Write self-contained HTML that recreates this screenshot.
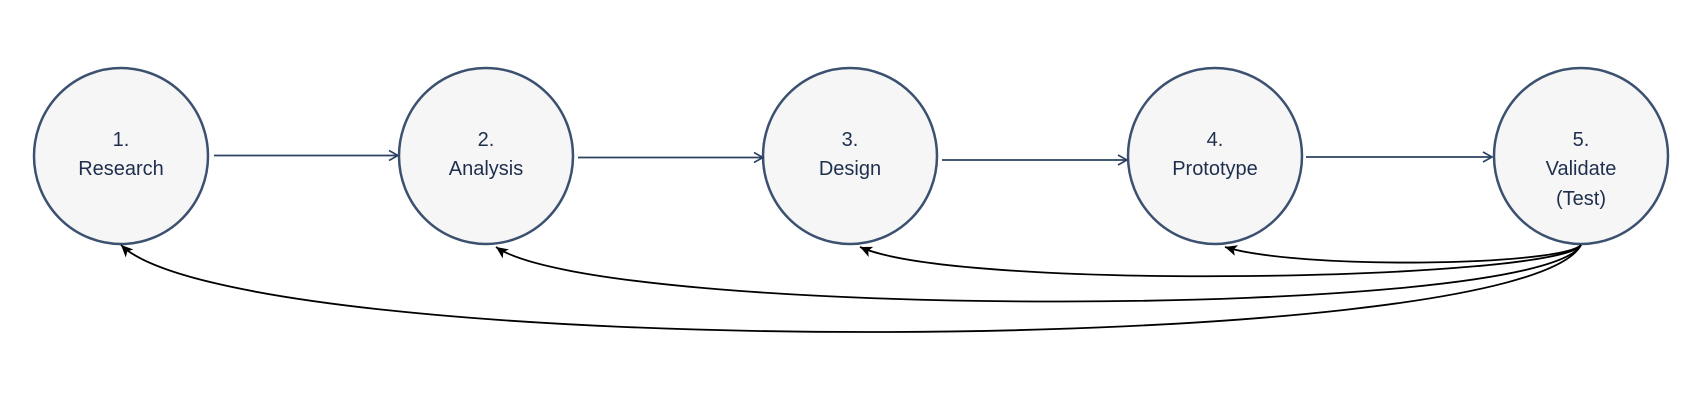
<!DOCTYPE html>
<html><head><style>
html,body{margin:0;padding:0;background:#fff;}
svg{display:block;}
text{font-family:"Liberation Sans",sans-serif;font-size:20px;fill:#1e2f4d;text-anchor:middle;}
</style></head><body>
<svg width="1706" height="402" viewBox="0 0 1706 402" xmlns="http://www.w3.org/2000/svg">
<defs>
<marker id="open" markerWidth="12" markerHeight="12" refX="10" refY="6" orient="auto" markerUnits="userSpaceOnUse">
<path d="M1,1 L10,6 L1,11" fill="none" stroke="#2b4263" stroke-width="1.6"/>
</marker>
<marker id="fill" markerWidth="14" markerHeight="14" refX="12" refY="7" orient="auto" markerUnits="userSpaceOnUse">
<path d="M0,1.5 L12,7 L0,12.5 L3,7 Z" fill="#000"/>
</marker>
</defs>
<g fill="#f6f6f6" stroke="#3c5170" stroke-width="2.5">
<ellipse cx="121" cy="156" rx="87" ry="88"/>
<ellipse cx="486" cy="156" rx="87" ry="88"/>
<ellipse cx="850" cy="156" rx="87" ry="88"/>
<ellipse cx="1215" cy="156" rx="87" ry="88"/>
<ellipse cx="1581" cy="156" rx="87" ry="88"/>
</g>
<g stroke="#2b4263" stroke-width="1.8" fill="none" marker-end="url(#open)">
<line x1="214" y1="155.5" x2="398" y2="155.5"/>
<line x1="578" y1="157.5" x2="763" y2="157.5"/>
<line x1="942" y1="160" x2="1127" y2="160"/>
<line x1="1306" y1="157" x2="1492" y2="157"/>
</g>
<g stroke="#000" stroke-width="1.8" fill="none" marker-end="url(#fill)">
<path d="M1581,245 C1560,266 1300,270 1225,247"/>
<path d="M1581,245 C1560,280 960,292 860,247"/>
<path d="M1581,245 C1540,320 600,320 496,247"/>
<path d="M1581,245 C1520,360 240,362 121,245"/>
</g>
<text x="121" y="146">1.</text><text x="121" y="175">Research</text>
<text x="486" y="146">2.</text><text x="486" y="175">Analysis</text>
<text x="850" y="146">3.</text><text x="850" y="175">Design</text>
<text x="1215" y="146">4.</text><text x="1215" y="175">Prototype</text>
<text x="1581" y="146">5.</text><text x="1581" y="175">Validate</text><text x="1581" y="205">(Test)</text>
</svg>
</body></html>
